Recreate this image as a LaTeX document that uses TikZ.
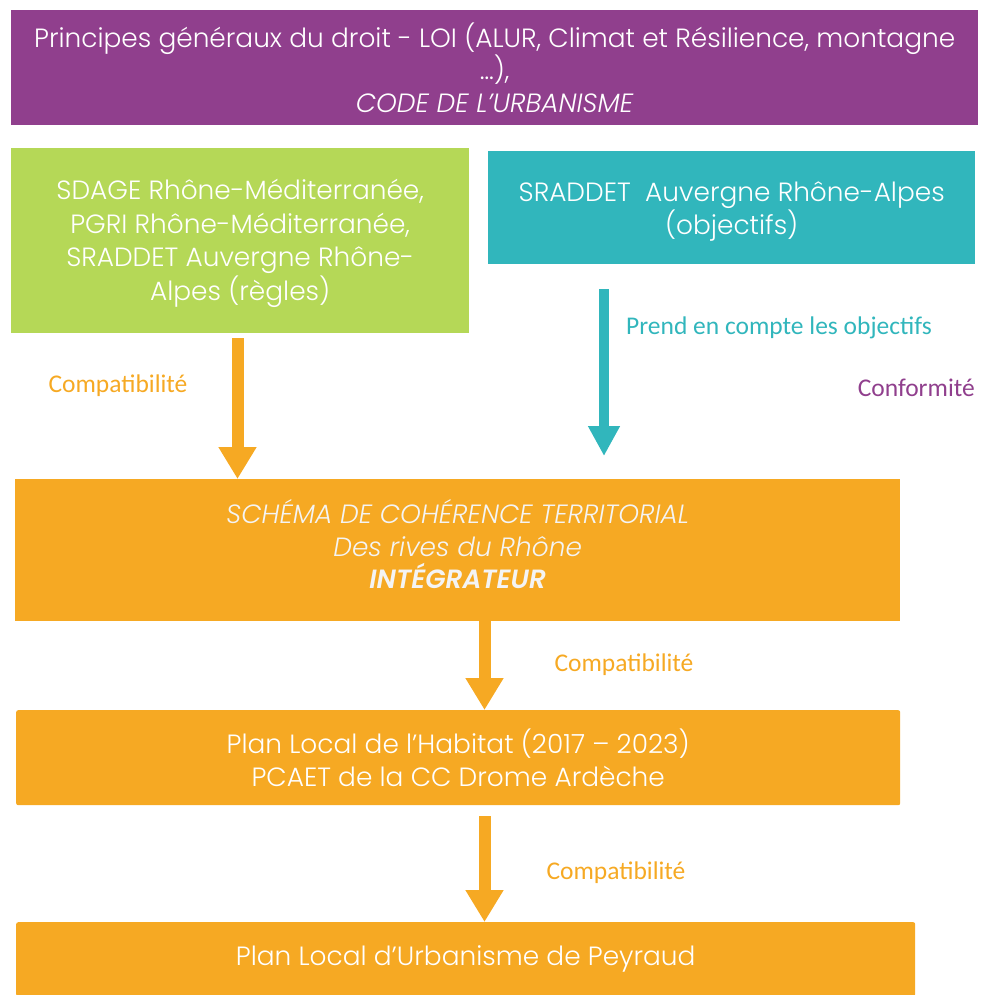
\documentclass[tikz,border=0pt]{standalone}
\usepackage{fontspec}
\setmainfont{Poppins}[UprightFont=* Light, ItalicFont=* Light Italic, BoldFont=* SemiBold, BoldItalicFont=* SemiBold Italic]
\newfontfamily\lblfont{Carlito}
\usetikzlibrary{arrows.meta}
\definecolor{cpurple}{HTML}{903F8D}
\definecolor{cgreen}{HTML}{B5D857}
\definecolor{cteal}{HTML}{31B6BC}
\definecolor{corange}{HTML}{F6A923}
\definecolor{ctxt}{HTML}{F4F4F4}
\begin{document}
\begin{tikzpicture}[x=1pt,y=-1pt,
  box/.style={rectangle, draw=none, inner sep=0pt, align=center, text=white,
    anchor=north west, font=\fontsize{26.4}{32.5}\selectfont},
  boxtext/.style={inner sep=0pt, align=center, text=white, font=\fontsize{26.4}{32.5}\selectfont},
  lbl/.style={inner sep=0pt, font=\lblfont\fontsize{25.5}{28}\selectfont},
  oarr/.style={draw=corange, line width=12pt, -{Triangle[width=36pt,length=32pt]}},
  tarr/.style={draw=cteal, line width=10pt, -{Triangle[width=30pt,length=30pt]}}]
\useasboundingbox (0,0) rectangle (991,995);
\node[box, fill=cpurple, minimum width=967pt, minimum height=115pt] (loi) at (11,10)
  {Principes généraux du droit - LOI (ALUR, Climat et Résilience, montagne\\…),\\\textit{CODE DE L’URBANISME}};
\node[box, fill=cgreen, minimum width=458pt, minimum height=185pt] (green) at (11,148) {};
\node[boxtext, font=\fontsize{26.4}{33.5}\selectfont] (greent) at ([yshift=-2.5pt]green.center)
  {SDAGE Rhône-Méditerranée,\\PGRI Rhône-Méditerranée,\\SRADDET Auvergne Rhône-\\Alpes (règles)};
\node[box, fill=cteal, minimum width=487pt, minimum height=113pt] (teal) at (488,151) {};
\node[boxtext] (tealt) at ([yshift=-4pt]teal.center)
  {SRADDET\ \ Auvergne Rhône-Alpes\\(objectifs)};
\node[box, fill=corange, minimum width=885pt, minimum height=142pt] (scot) at (15,479) {};
\node[boxtext, text=ctxt] (scott) at ([yshift=6pt]scot.center)
  {\textit{SCHÉMA DE COHÉRENCE TERRITORIAL}\\\textit{Des rives du Rhône}\\\textbf{\textit{INTÉGRATEUR}}};
\node[box, fill=corange, minimum width=884pt, minimum height=95pt, rounded corners=2pt] (plh) at (16,710)
  {Plan Local de l’Habitat (2017 – 2023)\\PCAET de la CC Drome Ardèche};
\node[box, fill=corange, minimum width=899pt, minimum height=74pt, rounded corners=2pt] (plu) at (16,922)
  {Plan Local d’Urbanisme de Peyraud};
% arrows
\coordinate (ax) at (237.5,0);
\coordinate (tx) at (604,0);
\coordinate (bx) at (484.5,0);
\draw[oarr] ([yshift=-5pt]green.south -| ax) -- (scot.north -| ax);
\draw[tarr] ([yshift=-25pt]teal.south -| tx) -- ([yshift=23pt]scot.north -| tx);
\draw[oarr] (scot.south -| bx) -- (plh.north -| bx);
\draw[oarr] ([yshift=-11pt]plh.south -| bx) -- (plu.north -| bx);
% labels
\node[lbl, text=corange] (l1) at (118,386) {Compatibilité};
\node[lbl, text=cteal, anchor=west] (l2) at (626,328) {Prend en compte les objectifs};
\node[lbl, text=cpurple, anchor=east] (l3) at (975,388) {Conformité};
\node[lbl, text=corange] (l4) at (624,665) {Compatibilité};
\node[lbl, text=corange] (l5) at (616,873) {Compatibilité};
\end{tikzpicture}
\end{document}
